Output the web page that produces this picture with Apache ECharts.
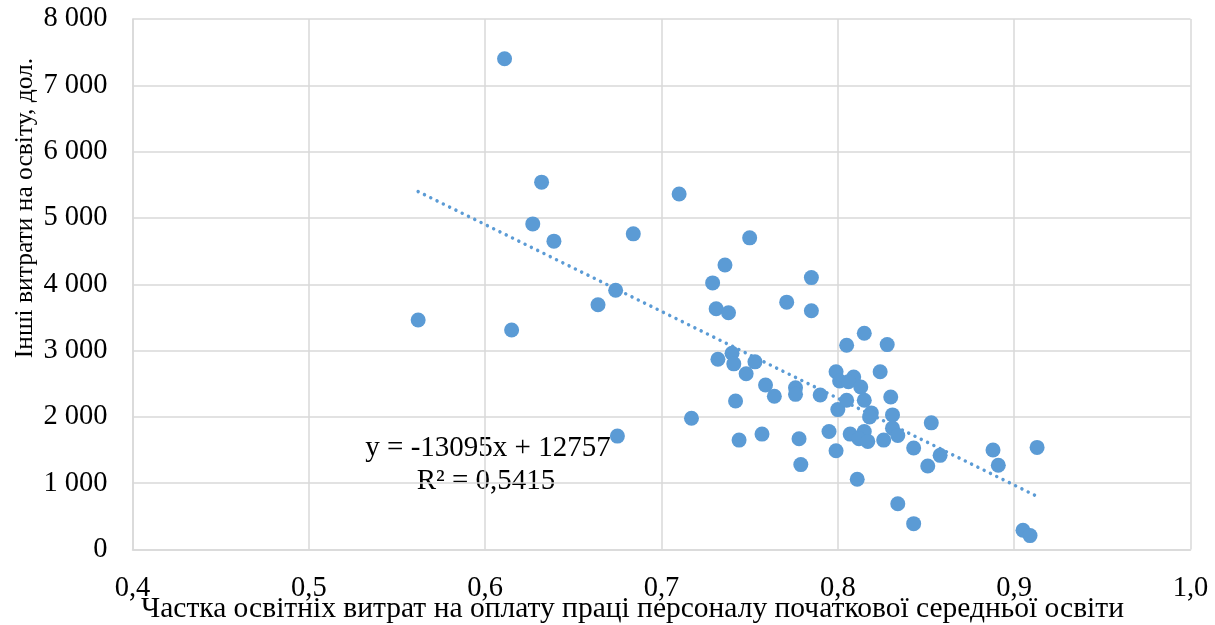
<!DOCTYPE html>
<html>
<head>
<meta charset="utf-8">
<script src="https://cdn.jsdelivr.net/npm/echarts@6/dist/echarts.min.js"></script>
<style>
  html, body { margin: 0; padding: 0; background: #fff; }
  #chart { width: 1215px; height: 625px; }
</style>
</head>
<body>
<div id="chart"></div>
<script>
// частка витрат на оплату праці (x) / інші витрати, дол. (y)
const shareX = [
  0.611, 0.562, 0.615, 0.632, 0.627, 0.639, 0.684, 0.710, 0.674, 0.664,
  0.675, 0.717, 0.750, 0.729, 0.736, 0.731, 0.738, 0.732, 0.740, 0.741,
  0.753, 0.748, 0.759, 0.742, 0.744, 0.757, 0.764, 0.771, 0.785, 0.785,
  0.776, 0.776, 0.790, 0.778, 0.779, 0.795, 0.799, 0.800, 0.805, 0.815,
  0.828, 0.799, 0.801, 0.809, 0.806, 0.813, 0.824, 0.830, 0.805, 0.815,
  0.819, 0.818, 0.831, 0.807, 0.815, 0.812, 0.817, 0.826, 0.831, 0.834,
  0.811, 0.834, 0.843, 0.853, 0.843, 0.858, 0.851, 0.888, 0.891, 0.913,
  0.905, 0.909
];
const otherY = [
  7400, 3460, 3310, 5540, 4910, 4650, 4760, 5360, 3910, 3690,
  1710, 1980, 4700, 4020, 4290, 3630, 3570, 2870, 2960, 2800,
  2830, 2650, 2480, 2240, 1650, 1740, 2310, 3730, 4100, 3600,
  2440, 2340, 2330, 1670, 1280, 1780, 1490, 2110, 3080, 3260,
  3090, 2680, 2540, 2600, 2530, 2450, 2680, 2300, 2250, 2250,
  2060, 2000, 2030, 1740, 1780, 1670, 1630, 1650, 1830, 1720,
  1060, 690, 390, 1910, 1530, 1420, 1260, 1500, 1270, 1540,
  290, 210
];

// тренд з підпису Excel
const slope = -13095;
const intercept = 12757;
const r2Text = '0,5415';

const xTicks = ['0,4', '0,5', '0,6', '0,7', '0,8', '0,9', '1,0'];
const yTicks = ['0', '1 000', '2 000', '3 000', '4 000', '5 000', '6 000', '7 000', '8 000'];

const points = shareX.map((x, i) => [x, otherY[i]]);
const xMin = Math.min(...shareX);
const xMax = Math.max(...shareX);
const trend = [xMin, xMax].map(x => [x, slope * x + intercept]);

const font = 'Liberation Serif';
const grey = '#d9d9d9';
const blue = '#5b9bd5';

const chart = echarts.init(document.getElementById('chart'), null, { renderer: 'canvas' });

chart.setOption({
  animation: false,
  grid: { left: 132.5, right: 24.5, top: 19, bottom: 75.5, outerBoundsMode: 'none', containLabel: false },
  xAxis: {
    type: 'value',
    min: 0.4,
    max: 1.0,
    interval: 0.1,
    name: 'Частка освітніх витрат на оплату праці персоналу початкової середньої освіти',
    nameLocation: 'middle',
    nameGap: 45,
    nameMoveOverlap: false,
    nameTextStyle: { fontFamily: font, fontSize: 29.5, color: '#000', padding: [0, 58, 0, 0] },
    axisLine: { show: true, lineStyle: { color: grey, width: 1.5 } },
    axisTick: { show: false },
    splitLine: { show: true, lineStyle: { color: grey, width: 1.5 } },
    axisLabel: {
      fontFamily: font, fontSize: 28.5, color: '#000', margin: 25,
      formatter: v => xTicks[Math.round((v - 0.4) * 10)]
    }
  },
  yAxis: {
    type: 'value',
    min: 0,
    max: 8000,
    interval: 1000,
    axisLine: { show: true, lineStyle: { color: grey, width: 1.5 } },
    axisTick: { show: false },
    splitLine: { show: true, lineStyle: { color: grey, width: 1.5 } },
    axisLabel: {
      fontFamily: font, fontSize: 28.5, color: '#000', margin: 25,
      formatter: v => yTicks[Math.round(v / 1000)]
    }
  },
  series: [
    {
      type: 'line',
      data: trend,
      symbol: 'none',
      z: 1,
      lineStyle: { color: blue, width: 3.5, type: [0.01, 7], cap: 'round' }
    },
    {
      type: 'scatter',
      data: points,
      symbol: 'circle',
      symbolSize: 15,
      z: 2,
      itemStyle: { color: blue, opacity: 1 }
    }
  ],
  graphic: [
    {
      // назва осі Y
      type: 'text',
      x: 25,
      y: 208,
      rotation: Math.PI / 2,
      style: {
        text: 'Інші витрати на освіту, дол.',
        fontFamily: font,
        fontSize: 25.5,
        fill: '#000',
        align: 'center',
        verticalAlign: 'middle'
      }
    },
    {
      type: 'text',
      x: 488,
      y: 448,
      style: {
        text: 'y = -13095x + 12757',
        fontFamily: font,
        fontSize: 29,
        fill: '#000',
        align: 'center',
        verticalAlign: 'middle'
      }
    },
    {
      type: 'text',
      x: 486,
      y: 481,
      style: {
        text: 'R² = ' + r2Text,
        fontFamily: font,
        fontSize: 29,
        fill: '#000',
        align: 'center',
        verticalAlign: 'middle'
      }
    }
  ]
});
</script>
</body>
</html>
